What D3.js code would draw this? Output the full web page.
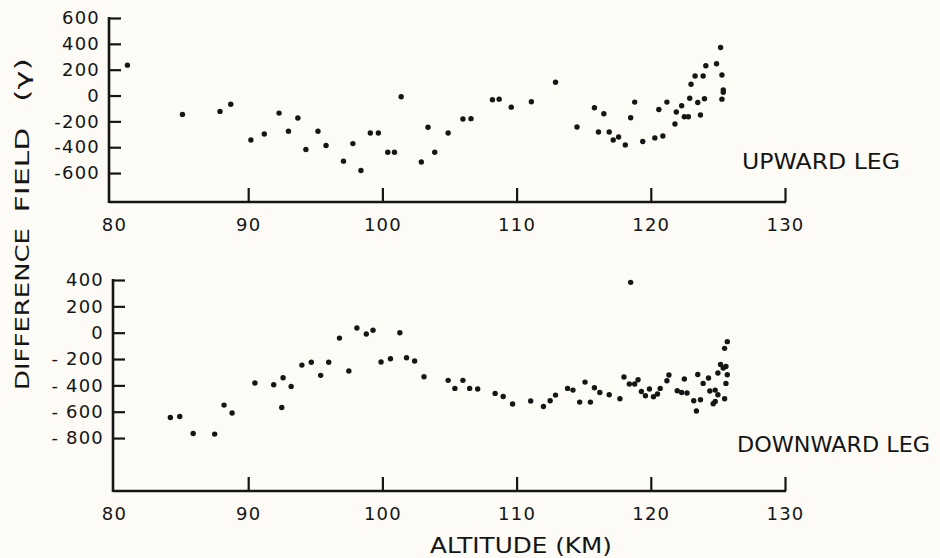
<!DOCTYPE html>
<html lang="en">
<head>
<meta charset="UTF-8">
<title>Difference field vs altitude</title>
<script src="https://d3js.org/d3.v7.min.js"></script>
<style>
  html, body { margin: 0; padding: 0; background: #fcfbf6; }
  svg text { font-family: "DejaVu Sans", sans-serif; fill: #151515; }
</style>
</head>
<body>
<div id="chart"></div>
<script>
// altitude (km) and field difference (gamma)
const upAlt = [81.0, 85.1, 87.9, 88.7, 90.2, 91.2, 92.3, 93.0, 93.7, 94.3, 95.2, 95.8, 97.1, 97.8, 98.4,
  99.1, 99.7, 100.4, 100.9, 101.4, 102.9, 103.4, 103.9, 104.9, 106.0, 106.6, 108.2, 108.7, 109.6, 111.1,
  112.9, 114.5, 115.8, 116.1, 116.5, 116.9, 117.2, 117.6, 118.1, 118.5, 118.8, 119.4, 120.3, 120.6, 120.9,
  121.2, 121.8, 121.9, 122.3, 122.5, 122.8, 122.9, 123.0, 123.3, 123.5, 123.7, 123.9, 124.0, 124.1, 124.9,
  125.2, 125.3, 125.4, 125.4, 125.3]
const upField = [235, -146, -123, -67, -344, -298, -136, -277, -174, -418, -277, -387, -508, -372, -580,
  -290, -290, -439, -439, -10, -515, -246, -439, -290, -182, -179, -33, -28, -90, -48,
  103, -244, -95, -282, -141, -282, -344, -321, -382, -172, -51, -356, -328, -108, -313,
  -51, -220, -128, -79, -164, -164, -21, 87, 151, -54, -151, 151, -25, 231, 246,
  372, 159, 44, 25, -28]

const downAlt = [84.2, 84.9, 85.9, 87.5, 88.2, 88.8, 90.5, 91.9, 92.5, 92.6, 93.2, 94.0, 94.7, 95.4, 96.0,
  96.8, 97.5, 98.1, 98.8, 99.3, 99.9, 100.6, 101.3, 101.8, 102.4, 103.1, 104.9, 105.4, 106.0, 106.5,
  107.1, 108.4, 109.0, 109.7, 111.05, 112.0, 112.5, 112.9, 113.8, 114.2, 114.7, 115.1, 115.5, 115.8, 116.2,
  116.9, 117.7, 118.0, 118.4, 118.5, 118.8, 119.05, 119.3, 119.6, 119.9, 120.2, 120.5, 120.7, 121.2, 121.35,
  121.97, 122.3, 122.5, 122.7, 123.2, 123.4, 123.5, 123.7, 123.9, 124.3, 124.4, 124.65, 124.8, 124.8, 125.0,
  125.0, 125.2, 125.4, 125.5, 125.5, 125.6, 125.6, 125.7, 125.7]
const downField = [-644, -636, -765, -770, -550, -610, -382, -395, -568, -342, -408, -246, -225, -324, -225,
  -41, -291, 36, -10, 18, -223, -198, 0, -190, -215, -334, -362, -423, -362, -423,
  -428, -461, -484, -542, -519, -560, -517, -474, -423, -436, -527, -375, -527, -418, -454,
  -471, -502, -337, -390, 382, -390, -357, -446, -479, -428, -486, -466, -423, -365, -321,
  -441, -454, -352, -458, -517, -595, -317, -509, -385, -344, -443, -540, -436, -522, -471,
  -306, -241, -268, -502, -119, -256, -385, -319, -68]

const altTicks = [80, 90, 100, 110, 120, 130]
const upTicks = [600, 400, 200, 0, -200, -400, -600]
const downTicks = [400, 200, 0, -200, -400, -600, -800]

const width = 940
const height = 558
const ink = "#151515"

const svg = d3.select("#chart").append("svg")
  .attr("width", width)
  .attr("height", height)
  .attr("viewBox", [0, 0, width, height])

const x = d3.scaleLinear().domain([80, 130]).range([114, 785])

function panel(alts, vals, ticks, yScale, axisX, fmt, label) {
  const g = svg.append("g")
  const base = yScale.range()[0]

  // y axis, ticks pointing inward
  const ya = g.append("g")
    .attr("transform", `translate(${axisX},0)`)
    .call(d3.axisLeft(yScale).tickValues(ticks).tickSize(-12).tickSizeOuter(0).tickPadding(9).tickFormat(fmt))
  ya.select(".domain").remove()
  ya.selectAll(".tick line").attr("stroke", ink).attr("stroke-width", 2.2)
  ya.selectAll(".tick text").attr("font-size", 18).attr("letter-spacing", 1.2).attr("fill", ink)
  g.append("line")
    .attr("x1", axisX).attr("x2", axisX)
    .attr("y1", yScale(ticks[0]) - 1).attr("y2", base + 1)
    .attr("stroke", ink).attr("stroke-width", 2.6)

  // x axis, ticks pointing up
  const xa = g.append("g")
    .attr("transform", `translate(0,${base})`)
    .call(d3.axisBottom(x).tickValues(altTicks).tickSize(-14).tickSizeOuter(0).tickPadding(16))
  xa.select(".domain").remove()
  xa.selectAll(".tick").filter(d => d === 80).select("line").remove()
  xa.selectAll(".tick line").attr("stroke", ink).attr("stroke-width", 2.2)
  xa.selectAll(".tick text").attr("font-size", 18).attr("letter-spacing", 1.2).attr("fill", ink)
  g.append("line")
    .attr("x1", axisX).attr("x2", x(130) + 1)
    .attr("y1", base).attr("y2", base)
    .attr("stroke", ink).attr("stroke-width", 2.6)

  g.append("g").selectAll("circle")
    .data(alts.map((a, i) => [a, vals[i]]))
    .join("circle")
    .attr("cx", d => x(d[0]))
    .attr("cy", d => yScale(d[1]))
    .attr("r", 2.7)
    .attr("fill", ink)

  g.append("text")
    .attr("x", label.x).attr("y", label.y)
    .attr("font-size", 21)
    .attr("textLength", label.len)
    .attr("lengthAdjust", "spacingAndGlyphs")
    .text(label.text)
}

const yUp = d3.scaleLinear().domain([-824, 600]).range([202, 18])
const yDown = d3.scaleLinear().domain([-1202, 400]).range([491, 280])

panel(upAlt, upField, upTicks, yUp, 109, d => String(d),
  {x: 742, y: 169, len: 158, text: "UPWARD LEG"})
panel(downAlt, downField, downTicks, yDown, 113, d => d < 0 ? "- " + (-d) : String(d),
  {x: 737, y: 452, len: 193, text: "DOWNWARD LEG"})

// x title
svg.append("text")
  .attr("x", 430).attr("y", 553)
  .attr("font-size", 21)
  .attr("textLength", 182)
  .attr("lengthAdjust", "spacingAndGlyphs")
  .text("ALTITUDE (KM)")

// rotated y title, in three pieces as lettered
const yTitle = [
  {text: "DIFFERENCE", cy: 309, len: 162},
  {text: "FIELD", cy: 170, len: 85},
  {text: "(γ)", cy: 80, len: 44}
]
svg.append("g").selectAll("text")
  .data(yTitle)
  .join("text")
  .attr("transform", d => `translate(29,${d.cy}) rotate(-90)`)
  .attr("text-anchor", "middle")
  .attr("font-size", 19)
  .attr("textLength", d => d.len)
  .attr("lengthAdjust", "spacingAndGlyphs")
  .text(d => d.text)
</script>
</body>
</html>
